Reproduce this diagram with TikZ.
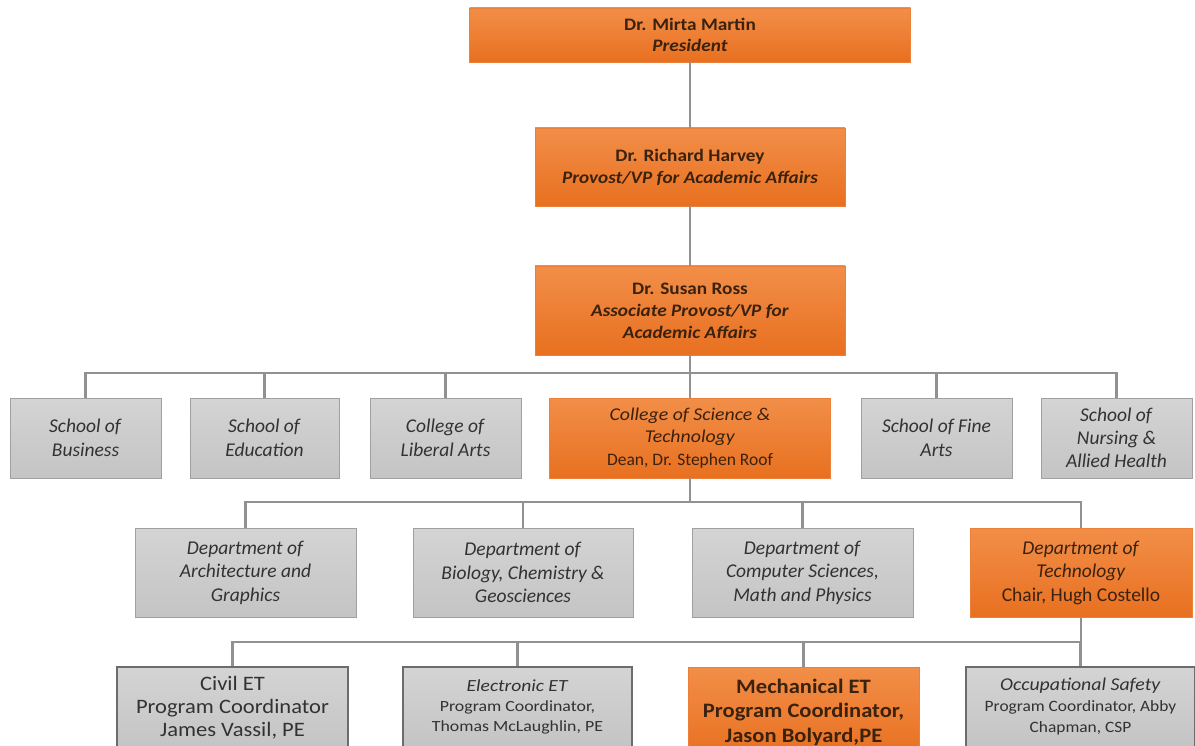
\documentclass[tikz,border=0pt]{standalone}
\usepackage{fontspec}
\setmainfont{Carlito}
\newfontfamily\widefont{Carlito}[FakeStretch=1.1]
\newfontfamily\widerfont{Carlito}[FakeStretch=1.15]
\definecolor{orTop}{RGB}{242,142,72}
\definecolor{orBot}{RGB}{232,112,32}
\definecolor{orEdge}{RGB}{236,128,56}
\definecolor{gyTop}{RGB}{212,212,212}
\definecolor{gyBot}{RGB}{196,196,196}
\definecolor{gyEdge}{RGB}{160,160,160}
\definecolor{orText}{RGB}{58,34,14}
\definecolor{gyText}{RGB}{50,50,50}
\definecolor{connCol}{RGB}{145,145,145}
\tikzset{
  unit/.style={rectangle, inner sep=0pt, align=center},
  sz/.style 2 args={minimum width=#1pt, minimum height=#2pt},
  obox/.style={unit, top color=orTop, bottom color=orBot, draw=orEdge, line width=0.8pt, text=orText},
  gbox/.style={unit, top color=gyTop, bottom color=gyBot, draw=gyEdge, line width=0.8pt, text=gyText},
  gboxdark/.style={gbox, draw=gray!85!black, line width=1.2pt},
  conn/.style={draw=connCol, line width=2.2pt},
  fs/.style 2 args={font=\fontsize{#1}{#2}\selectfont},
  wfs/.style 2 args={font=\widefont\fontsize{#1}{#2}\selectfont},
}
\begin{document}
\begin{tikzpicture}[x=1pt,y=-1pt]
\useasboundingbox (0,0) rectangle (1195,746);
\clip (0,0) rectangle (1195,746);
\fill[white] (0,0) rectangle (1195,746);

% executive chain
\node[obox, sz={441}{54}, wfs={17.5}{21}] (pres) at (690,35)
  {\textbf{Dr. Mirta Martin}\\\textbf{\textit{President}}};
\node[obox, sz={310}{78}, wfs={17.5}{22}] (harvey) at (690,167)
  {\textbf{Dr. Richard Harvey}\\\textbf{\textit{Provost/VP for Academic Affairs}}};
\node[obox, sz={310}{89}, wfs={17.5}{22}] (ross) at (690,310.5)
  {\textbf{Dr. Susan Ross}\\\textbf{\textit{Associate Provost/VP for}}\\\textbf{\textit{Academic Affairs}}};

% schools and colleges
\node[gbox, sz={151}{80}, fs={19.5}{24}] (bus) at (85.5,438) {\textit{School of}\\\textit{Business}};
\node[gbox, sz={149}{80}, fs={19.5}{24}] (edu) at (264.5,438) {\textit{School of}\\\textit{Education}};
\node[gbox, sz={151}{80}, fs={19.5}{24}] (lib) at (445.5,438) {\textit{College of}\\\textit{Liberal Arts}};
\node[obox, sz={281}{80}, fs={17.5}{22.5}] (cos) at (690,438)
  {{\widefont\fontsize{18}{22.5}\selectfont\textit{College of Science \&}}\\
   {\widefont\fontsize{18}{22.5}\selectfont\textit{Technology}}\\Dean, Dr. Stephen Roof};
\node[gbox, sz={151}{80}, fs={19.5}{24}] (fine) at (936.5,438) {\textit{School of Fine}\\\textit{Arts}};
\node[gbox, sz={151}{80}, fs={19.5}{23}] (nurs) at (1116.5,438) {\textit{School of}\\\textit{Nursing \&}\\\textit{Allied Health}};

% departments
\node[gbox, sz={221}{89}, fs={19.5}{23.5}] (arch) at (245.5,572.5)
  {\textit{Department of}\\\textit{Architecture and}\\\textit{Graphics}};
\node[gbox, sz={220}{89}, fs={19.5}{23.5}] (bio) at (523,572.5)
  {\textit{Department of}\\\textit{Biology, Chemistry \&}\\\textit{Geosciences}};
\node[gbox, sz={221}{89}, fs={19.5}{23.5}] (cs) at (802.5,572.5)
  {\textit{Department of}\\\textit{Computer Sciences,}\\\textit{Math and Physics}};
\node[obox, sz={222}{89}, fs={19.5}{23.5}] (tech) at (1081,572.5)
  {\textit{Department of}\\\textit{Technology}\\Chair, Hugh Costello};

% programs
\node[gboxdark, sz={231}{82}, wfs={20.5}{23}] (civil) at (232.5,708)
  {Civil ET\\Program Coordinator\\James Vassil, PE};
\node[gboxdark, sz={229}{80}, font=\widerfont\fontsize{15.5}{20}\selectfont] (elec) at (517.5,707)
  {{\fontsize{17}{20}\selectfont\textit{Electronic ET}}\\Program Coordinator,\\Thomas McLaughlin, PE};
\node[obox, sz={231}{90}, wfs={20.5}{24.5}] (mech) at (803.5,712)
  {\textbf{Mechanical ET}\\\textbf{Program Coordinator,}\\\textbf{Jason Bolyard,PE}};
\node[gboxdark, sz={229}{80}, wfs={15.8}{21}] (occ) at (1080.5,707)
  {{\fontsize{18}{21}\selectfont\textit{Occupational Safety}}\\Program Coordinator, Abby\\Chapman, CSP};

% reporting lines
\draw[conn] (pres.south) -- (harvey.north);
\draw[conn] (harvey.south) -- (ross.north);
\coordinate (b4) at (690,373);
\draw[conn] (ross.south) -- (cos.north);
\draw[conn] (bus.north) -- (bus.north |- b4) -| (nurs.north);
\draw[conn] (edu.north) -- (edu.north |- b4);
\draw[conn] (lib.north) -- (lib.north |- b4);
\draw[conn] (fine.north) -- (fine.north |- b4);

\coordinate (b5) at (690,502);
\draw[conn] (cos.south) -- (b5);
\draw[conn] (arch.north) -- (arch.north |- b5) -| (tech.north);
\draw[conn] (bio.north) -- (bio.north |- b5);
\draw[conn] (cs.north) -- (cs.north |- b5);

\coordinate (b6) at (1081,642);
\draw[conn] (tech.south) -- (b6);
\draw[conn] (civil.north) -- (civil.north |- b6) -| (occ.north);
\draw[conn] (elec.north) -- (elec.north |- b6);
\draw[conn] (mech.north) -- (mech.north |- b6);
\end{tikzpicture}
\end{document}
